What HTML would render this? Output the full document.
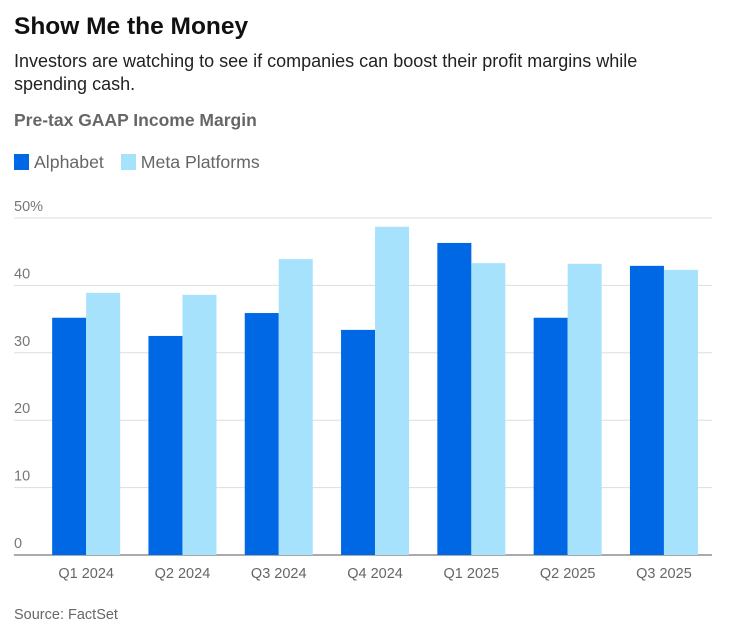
<!DOCTYPE html>
<html><head><meta charset="utf-8"><style>
body{margin:0;width:732px;height:633px;background:#fff;font-family:"Liberation Sans",sans-serif;overflow:hidden;position:relative}
.t{position:absolute;left:14px;white-space:nowrap}
</style></head><body>
<div class="t" style="top:13px;font-size:24.5px;font-weight:bold;color:#111">Show Me the Money</div>
<div class="t" style="top:50px;font-size:18px;line-height:23px;color:#222">Investors are watching to see if companies can boost their profit margins while<br>spending cash.</div>
<div class="t" style="top:110px;font-size:17.5px;font-weight:bold;color:#666">Pre-tax GAAP Income Margin</div>
<div class="t" style="top:152px;font-size:17.7px;color:#666">
<span><span style="display:inline-block;width:15px;height:16px;background:#0068e5;vertical-align:-2px;margin-right:5px"></span>Alphabet</span>
<span style="margin-left:12px"><span style="display:inline-block;width:15px;height:16px;background:#a6e2fb;vertical-align:-2px;margin-right:5px"></span>Meta Platforms</span>
</div>
<svg id="chart" width="732" height="633" style="position:absolute;left:0;top:0"></svg>
<div class="t" style="top:607px;font-size:14.5px;color:#666">Source: FactSet</div>
<script>
const categories=["Q1 2024","Q2 2024","Q3 2024","Q4 2024","Q1 2025","Q2 2025","Q3 2025"];
const alphabet=[35.2,32.5,35.9,33.4,46.3,35.2,42.9];
const meta=[38.9,38.6,43.9,48.7,43.3,43.2,42.3];
const yTicks=[0,10,20,30,40,50];
const yLabels=["0","10","20","30","40","50%"];
const svg=document.getElementById('chart');
const NS="http://www.w3.org/2000/svg";
const y0=555,yTop=218,x0=38,gw=96.3,bw=34;
const ys=v=>y0-(v/50)*(y0-yTop);
const xc=i=>x0+gw*(i+0.5);
function mk(t,a){const e=document.createElementNS(NS,t);for(const k in a)e.setAttribute(k,a[k]);svg.appendChild(e);return e;}
yTicks.forEach((v,i)=>{
 const l=mk('line',{x1:14,x2:712,y1:ys(v),y2:ys(v),stroke:v===0?'#555':'#ddd','stroke-width':1});
 
 
 const t=mk('text',{x:14,y:ys(v)-7,'font-size':14.5,fill:'#777','font-family':'Liberation Sans, sans-serif'});
 t.textContent=yLabels[i];
 
 
});
categories.forEach((c,i)=>{
 const a=mk('rect',{x:xc(i)-bw,y:ys(alphabet[i]),width:bw,height:y0-ys(alphabet[i]),fill:'#0068e5'});
 
 
 const m=mk('rect',{x:xc(i),y:ys(meta[i]),width:bw,height:y0-ys(meta[i]),fill:'#a6e2fb'});
 
 
 const t=mk('text',{x:xc(i),y:578,'font-size':14.5,fill:'#666','text-anchor':'middle','font-family':'Liberation Sans, sans-serif'});
 t.textContent=c;
 
 
});
</script>
</body></html>
